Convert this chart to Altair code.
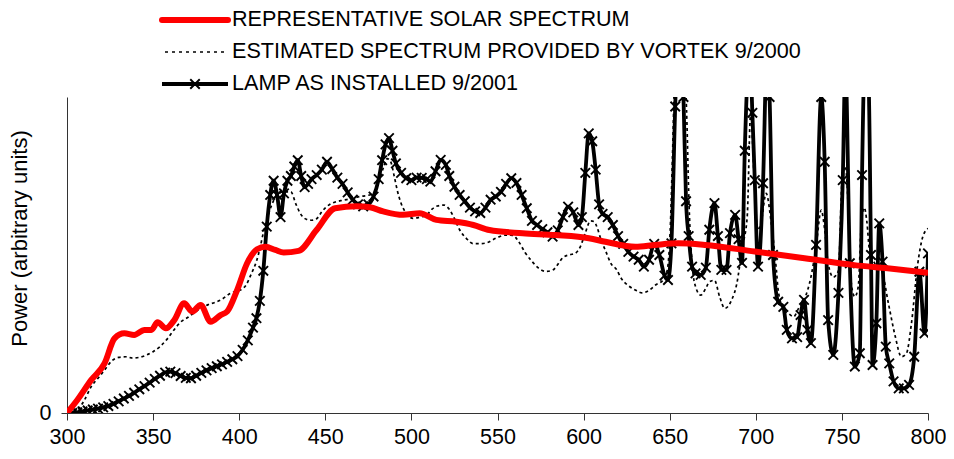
import altair as alt
import pandas as pd

# ---- data (wavelength nm, power in arbitrary units; 100 = top of plot) ----
solar_wl = [300, 306, 314, 321.8, 327.6, 333.3, 339, 345, 349, 352.6, 357.4, 362.3, 368, 372.8, 377.6,
            383.4, 389.2, 393, 398.8, 404.6, 410.4, 415.2, 421, 425.8, 434.5, 444.9, 455.7, 468.2, 475.9,
            483.6, 495.2, 504.8, 514.5, 526, 536, 545.3, 564.6, 583.8, 603.1, 612.7, 630.1, 641.6, 655,
            670.5, 699.4, 728.3, 757.2, 776.5, 800]
solar_val = [0, 4.1, 10.4, 15.7, 23.6, 25.2, 24.7, 26.3, 26.3, 28.7, 26.8, 29.4, 34.7, 32.1, 34.2,
             28.9, 31, 32.1, 38.9, 47.4, 51.8, 52.6, 51.6, 50.8, 51.3, 57.9, 64.8, 65.4, 65.1,
             63.8, 62.7, 63.2, 61.1, 60.5, 59.5, 57.9, 56.9, 56.3, 55.3, 54.2, 52.6, 53.2, 53.7,
             53.2, 51.1, 49, 46.8, 45.8, 44.4]

vortek_wl = [300, 303, 306, 310, 314, 318, 322, 326, 330, 334, 338, 342, 346, 350, 354, 358, 362, 366,
             370, 374, 378, 382, 386, 390, 394, 398, 401, 404, 407, 410, 412, 414, 416, 419, 422, 426,
             430, 433, 436, 439, 442, 445, 448, 452, 456, 460, 465, 470, 475, 478, 481, 484, 486, 488,
             490, 492, 494, 497, 501, 505, 509, 512, 515, 519, 522, 525, 528, 532, 536, 540, 544, 549,
             555, 559, 562, 566, 570, 574, 578, 582, 585, 588, 592, 595, 598, 601, 604, 606, 608, 610,
             613, 616, 619, 622, 626, 630, 634, 638, 642, 646, 648.5, 650.3, 651.6, 653, 655, 658, 660,
             661, 663, 665, 668, 671, 673, 676, 679, 682, 686, 689, 692, 695, 697, 699, 701, 703, 706,
             709, 712, 713, 716, 719, 722, 725, 728, 732, 735, 738, 740, 742, 745, 748, 750, 752, 754,
             755, 757.5, 759.5, 761.3, 763, 764.5, 766, 769, 773, 777, 781, 784.5, 787.5, 790.4, 794,
             797, 800]
vortek_val = [0, 0.3, 0.9, 4, 8.3, 11, 13.7, 16.5, 17.6, 17.8, 17.4, 17.6, 18.3, 19.4, 21, 23.3, 26.2, 28.8,
              30.2, 31.8, 33.2, 34.3, 35, 36, 37.6, 38.5, 39, 40.5, 44, 48, 52, 57, 61, 66, 69, 70,
              70, 66, 62.7, 61.3, 61, 61.5, 63.7, 65.8, 66.8, 67.3, 67.8, 68.5, 68.9, 69.5, 73, 78, 80.5, 79.5,
              75, 70, 66.4, 63.2, 61.6, 62, 62.7, 64.5, 65.5, 65.8, 64.5, 61.5, 58, 55.2, 53.6, 53.6, 53.9, 55.3,
              56.3, 56.2, 54.5, 50.8, 48, 45.8, 44.8, 45.2, 47, 49.2, 50.1, 50.5, 52.5, 57, 60.8, 60.6, 58.5, 55,
              51, 47.2, 45.5, 42.5, 40.3, 38.9, 38, 38.8, 40.6, 42, 45, 58, 81, 110, 125, 115, 92,
              70, 47.4, 40, 37.3, 39.5, 41.5, 42, 36.8, 33.1, 35.8, 41, 52, 62, 95, 75, 58, 60, 69.5,
              60, 45, 38.9, 33, 31.5, 30.5, 33.3, 35.8, 43, 52.6, 64.2, 58, 47.4, 43, 45, 72.7, 78, 60,
              43.1, 36.8, 40, 60, 65, 60.5, 51.6, 47.4, 45.3, 34.7, 24.2, 17.8, 18.9, 28.4, 47,
              55.8, 58.4]

lamp_wl = [300, 303, 306, 309, 312, 315, 318, 321, 324, 327, 330, 333, 336, 339, 342, 345, 348, 351, 354,
           357, 360, 363, 366, 369, 372, 375, 378, 381, 384, 387, 390, 393, 396, 399, 402, 405, 408, 410,
           412, 414, 416, 418, 420, 422, 424, 426, 428, 430, 432, 434, 436, 438, 440, 442, 445, 448, 451,
           454, 457, 460, 463, 466, 469, 472, 475, 478, 481, 483, 485, 487, 489, 491, 494, 497, 500, 503,
           506, 509, 511, 514, 517, 520, 522, 525, 528, 531, 534, 537, 540, 543, 546, 549, 552, 555, 558,
           561, 564, 567, 570, 573, 576, 579, 582, 585, 588, 591, 594, 597, 599, 601, 603, 605, 607, 609,
           611, 614, 617, 620, 623, 626, 629, 632, 635, 638, 641, 644, 647, 649, 651, 653.2, 655.5, 658,
           659.5, 661, 663, 665, 668, 671, 673, 676, 678, 680, 683, 685, 688, 690, 692, 693.6, 696.5, 698,
           699.4, 701.3, 704.2, 706.5, 708, 710, 713, 716, 718, 721, 724, 726, 728, 730, 732, 735, 738,
           740, 742, 745, 748, 750.5, 752, 754.6, 757.5, 760.4, 761.7, 763.5, 765.5, 766.9, 767.8, 770,
           771.7, 773.6, 775.5, 777.5, 780, 783, 786, 789, 792, 795, 798, 800]
lamp_val = [0, 0, 0.2, 0.5, 0.8, 1.1, 1.4, 1.8, 2.2, 2.9, 3.7, 4.6, 5.4, 6.4, 7.5, 8.5, 9.6, 10.8, 11.8,
            12.8, 13.1, 12.6, 11.7, 11.1, 11, 11.8, 12.7, 13.5, 14.2, 14.8, 15.4, 16.2, 17, 18, 20, 23, 27, 30,
            35.5, 45, 59, 69, 73.5, 69, 62, 69.5, 73.5, 75, 78, 80, 75, 71.5, 72.5, 74, 75.3, 77, 79.5,
            77.2, 74.5, 72.5, 69.8, 67.5, 66, 65.4, 66, 68.5, 74, 80, 85, 87, 83, 79, 76, 74.3, 73.7, 74.5,
            74.4, 74, 73.2, 76.5, 80.1, 78.5, 75, 71.6, 69, 67, 65, 63.8, 63.3, 65, 67.5, 68.5, 70, 72.5, 74.3,
            72.8, 69, 64.8, 60.8, 59.5, 58.2, 57.2, 55.8, 57.8, 62, 65.3, 63.5, 59.5, 62, 76, 88.5, 86, 77, 66,
            63, 62, 59.5, 56, 53.5, 51, 49.5, 48.5, 46.3, 48.5, 53.5, 50, 43.5, 42.1, 53.7, 97, 130, 100,
            67, 56, 46.3, 44.2, 43.7, 46, 58, 66.4, 56, 45.3, 45.3, 56.9, 62.7, 55, 47.5, 83, 115, 95,
            73.7, 46.3, 72.7, 115, 100, 50, 35.2, 33.6, 26.3, 23.6, 24, 31, 35.8, 26.3, 22.1, 53.2, 100,
            79.5, 29.4, 18.4, 38, 73.7, 110, 47.4, 14.7, 18.9, 75.3, 115, 105, 50, 15.2, 28.4,
            60, 47.9, 21, 15.7, 10, 7.8, 7.8, 8.9, 17.8, 44.7, 25.2, 50.5]

x_ticks = [300, 350, 400, 450, 500, 550, 600, 650, 700, 750, 800]
y_ticks = [0]
y_title = "Power (arbitrary units)"
legend_labels = ["REPRESENTATIVE SOLAR SPECTRUM",
                 "ESTIMATED SPECTRUM PROVIDED BY VORTEK 9/2000",
                 "LAMP AS INSTALLED 9/2001"]

FONT = "Liberation Sans"
FS = 21.5

solar = pd.DataFrame({"wl": solar_wl, "p": solar_val})
vortek = pd.DataFrame({"wl": vortek_wl, "p": vortek_val})
lamp = pd.DataFrame({"wl": lamp_wl, "p": lamp_val})

xscale = alt.Scale(domain=[300, 800], nice=False, zero=False)
yscale = alt.Scale(domain=[0, 100], nice=False)

xaxis = alt.Axis(values=x_ticks, grid=False, title=None, labelFont=FONT, labelFontSize=FS,
                 labelColor="black", tickColor="#333", domainColor="#333", tickSize=7,
                 labelPadding=6, labelFlush=False)
yaxis = alt.Axis(values=y_ticks, grid=False, title=y_title, labelFont=FONT, labelFontSize=FS,
                 labelColor="black", tickColor="#333", domainColor="#333", tickSize=6,
                 labelPadding=10, titleFont=FONT, titleFontSize=22, titleFontWeight="normal",
                 titleColor="black", titleX=-48, titleY=141, titleAngle=270,
                 titleAlign="center", titleBaseline="middle")

X = alt.X("wl:Q", scale=xscale, axis=xaxis)
Y = alt.Y("p:Q", scale=yscale, axis=yaxis)
Xn = alt.X("wl:Q", scale=xscale)
Yn = alt.Y("p:Q", scale=yscale)

vortek_line = alt.Chart(vortek).mark_line(
    color="black", strokeWidth=1.7, strokeDash=[3, 3], interpolate="monotone", clip=True
).encode(x=X, y=Y)

lamp_line = alt.Chart(lamp).mark_line(
    color="black", strokeWidth=3.8, interpolate="monotone", clip=True
).encode(x=Xn, y=Yn)

xshape = "M-1,-1L1,1M-1,1L1,-1"
lamp_pts = alt.Chart(lamp).mark_point(
    shape=xshape, size=90, color="black", strokeWidth=1.9, filled=False, opacity=1, clip=True
).encode(x=Xn, y=Yn)

solar_line = alt.Chart(solar).mark_line(
    color="#ff0000", strokeWidth=6, interpolate="monotone", clip=True
).encode(x=Xn, y=Yn)

# ---- manual legend above the plot (pixel offsets relative to plot area) ----
one = pd.DataFrame({"k": [0]})
ROWS = [-77, -45, -13]
LX1, LX2, TX = 95, 161, 165

leg_red = alt.Chart(one).mark_rule(color="#ff0000", strokeWidth=6, strokeCap="round").encode(
    x=alt.value(LX1), x2=alt.value(LX2), y=alt.value(ROWS[0]))
leg_dot = alt.Chart(one).mark_rule(color="black", strokeWidth=1.7, strokeDash=[3, 4]).encode(
    x=alt.value(LX1 + 3), x2=alt.value(LX2), y=alt.value(ROWS[1]))
leg_lamp = alt.Chart(one).mark_rule(color="black", strokeWidth=3.8).encode(
    x=alt.value(LX1), x2=alt.value(LX2), y=alt.value(ROWS[2]))
leg_x = alt.Chart(one).mark_point(shape=xshape, size=90, color="black", strokeWidth=1.9,
                                  filled=False, opacity=1).encode(
    x=alt.value((LX1 + LX2) / 2), y=alt.value(ROWS[2]))
leg_text = [
    alt.Chart(one).mark_text(align="left", baseline="middle", font=FONT, fontSize=21.6,
                             color="black").encode(
        x=alt.value(TX), y=alt.value(ROWS[i]), text=alt.value(legend_labels[i]))
    for i in range(3)
]

chart = alt.layer(
    vortek_line, lamp_line, lamp_pts, solar_line,
    leg_red, leg_dot, leg_lamp, leg_x, *leg_text
).properties(
    width=861, height=316,
    autosize=alt.AutoSizeParams(type="none"),
    padding={"left": 59, "top": 89, "right": 18, "bottom": 38},
    background="white"
).configure_view(stroke=None)

chart.save("out.html", embed_options={"renderer": "svg", "actions": False})
